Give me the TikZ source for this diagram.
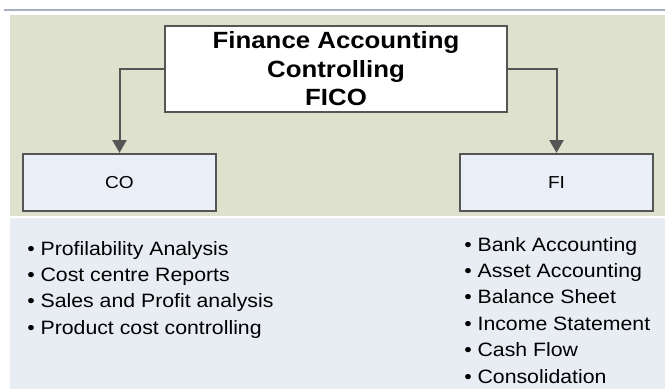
\documentclass[tikz,border=0pt]{standalone}
\usepackage{fontspec}
\setmainfont{Liberation Sans}[FakeStretch=1.1]
\usetikzlibrary{positioning}
\usetikzlibrary{arrows.meta}
\definecolor{olivebg}{RGB}{223,225,207}
\definecolor{bluebg}{RGB}{232,236,243}
\definecolor{boxfill}{RGB}{233,238,247}
\definecolor{darkline}{RGB}{85,85,85}
\definecolor{topline}{RGB}{166,176,190}

\begin{document}
\begin{tikzpicture}[
    x=0.75pt, y=-0.75pt,
    header/.style={draw=darkline, line width=1.5pt, fill=white, minimum width=256pt, minimum height=65pt, align=center, font=\bfseries\fontsize{17.6}{21.4}\selectfont},
    module/.style={draw=darkline, line width=1.5pt, fill=boxfill, minimum width=145pt, minimum height=43pt, font=\fontsize{13}{15}\selectfont},
    item/.style={anchor=base west, inner sep=0pt, font=\fontsize{14.5}{17}\selectfont},
    >={Triangle[length=9.5pt, width=10.5pt]}
]
    \useasboundingbox (0,0) rectangle (665,389);

    % background panels
    \draw[topline, line width=1.1pt] (4,10) -- (665,10);
    \fill[olivebg] (10,15) rectangle (665,216);
    \fill[bluebg] (10,218) rectangle (665,389);

    \node[header] (fico) at (336,69) {Finance Accounting\\Controlling\\FICO};
    \node[module] (co) at (119.5,182.5) {CO};
    \node[module] (fi) at (556.5,182.5) {FI};

    \draw[->, darkline, line width=1.5pt] (fico.west) -| (co.north);
    \draw[->, darkline, line width=1.5pt] (fico.east) -| (fi.north);

    % CO reports
    \node[item] (co1) at (27,255) {• Profilability Analysis};
    \node[item] (co2) at (27,281.3) {• Cost centre Reports};
    \node[item] (co3) at (27,307.6) {• Sales and Profit analysis};
    \node[item] (co4) at (27,334) {• Product cost controlling};

    % FI reports
    \node[item] (fi1) at (464,251) {• Bank Accounting};
    \node[item] (fi2) at (464,277.4) {• Asset Accounting};
    \node[item] (fi3) at (464,303.8) {• Balance Sheet};
    \node[item] (fi4) at (464,330.2) {• Income Statement};
    \node[item] (fi5) at (464,356.6) {• Cash Flow};
    \node[item] (fi6) at (464,383) {• Consolidation};
\end{tikzpicture}
\end{document}
